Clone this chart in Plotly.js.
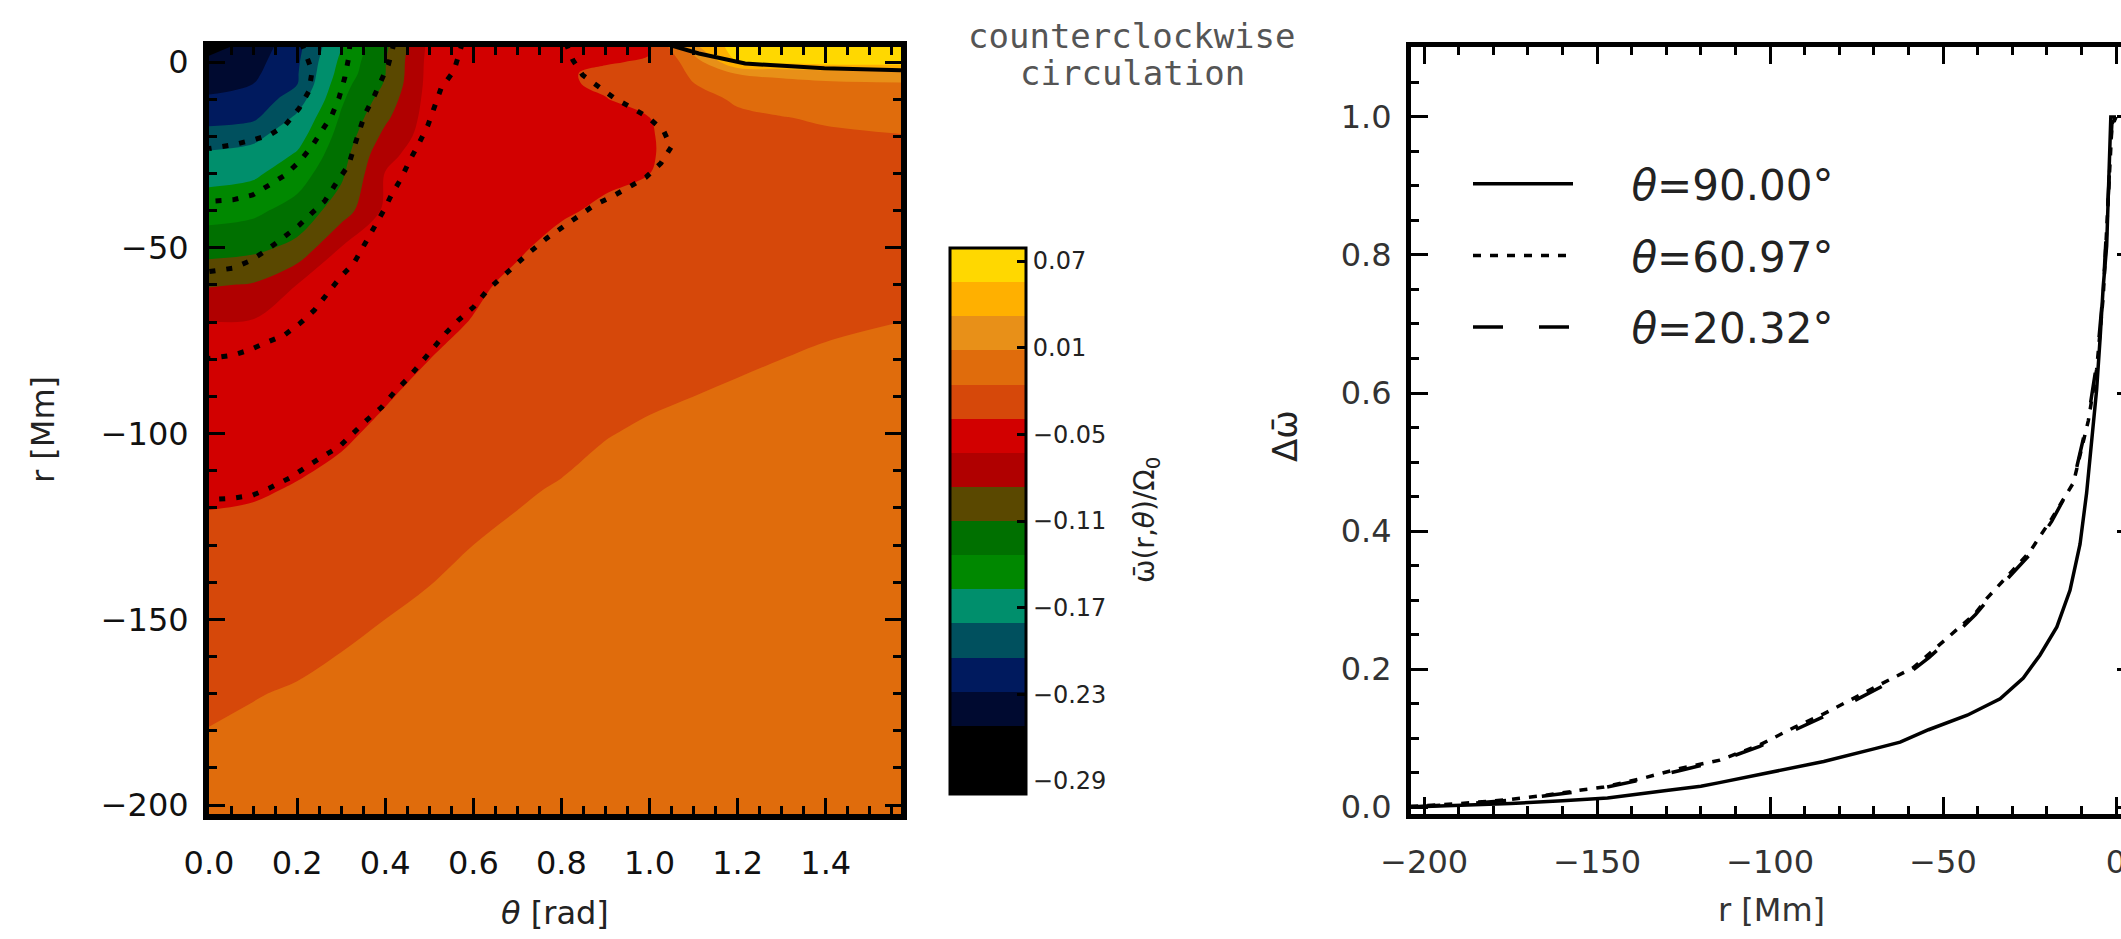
<!DOCTYPE html>
<html>
<head>
<meta charset="utf-8">
<script src="https://cdn.plot.ly/plotly-3.0.1.min.js"></script>
<style>
html,body{margin:0;padding:0;background:#fff;overflow:hidden;}
#wrap{width:2121px;height:939px;overflow:hidden;position:relative;background:#fff;}
#chart{width:2140px;height:939px;position:absolute;left:0;top:0;}
</style>
</head>
<body>
<div id="wrap"><div id="chart"></div></div>
<script>
// ---------------- data: left panel (omega-bar field) ----------------
const thetaGrid = [0, 0.1, 0.2, 0.3, 0.4, 0.5, 0.6, 0.7, 0.8, 0.9, 1.0, 1.1, 1.2, 1.3, 1.4, 1.5708];
const rGrid = [5, 0, -3, -6, -10, -15, -20, -25, -30, -40, -50, -60, -70, -80, -90, -100, -115, -130, -150, -170, -190, -203.5];
const omegaRows = [
  [-0.265,-0.245,-0.212,-0.160,-0.115,-0.058,-0.052,-0.049,-0.042,-0.042,-0.041,0.030,0.068,0.074,0.077,0.078],
  [-0.245,-0.237,-0.208,-0.152,-0.111,-0.056,-0.050,-0.047,-0.041,-0.040,-0.038,-0.005,0.056,0.062,0.065,0.066],
  [-0.240,-0.233,-0.2065,-0.148,-0.1105,-0.0555,-0.0495,-0.0465,-0.0405,-0.037,-0.033,-0.012,0.010,0.015,0.020,0.024],
  [-0.234,-0.228,-0.205,-0.142,-0.108,-0.055,-0.049,-0.046,-0.0405,-0.0375,-0.032,-0.016,-0.005,0.000,0.003,0.005],
  [-0.2255,-0.2194,-0.1927,-0.137,-0.1004,-0.0541,-0.0483,-0.0454,-0.0405,-0.0395,-0.035,-0.022,-0.013,-0.010,-0.008,-0.006],
  [-0.2125,-0.2088,-0.1766,-0.131,-0.0908,-0.0531,-0.0474,-0.0446,-0.041,-0.0405,-0.0392,-0.027,-0.019,-0.016,-0.014,-0.012],
  [-0.195,-0.1869,-0.1657,-0.1255,-0.0802,-0.052,-0.0465,-0.0438,-0.041,-0.041,-0.0405,-0.030,-0.022,-0.019,-0.0175,-0.016],
  [-0.1766,-0.1723,-0.1549,-0.120,-0.0686,-0.0509,-0.0456,-0.043,-0.041,-0.041,-0.0405,-0.031,-0.0235,-0.021,-0.0195,-0.018],
  [-0.1657,-0.1614,-0.1444,-0.1145,-0.0619,-0.0499,-0.0447,-0.0422,-0.0408,-0.0405,-0.0392,-0.030,-0.024,-0.0215,-0.020,-0.0188],
  [-0.1428,-0.1386,-0.1248,-0.0986,-0.0583,-0.0477,-0.0429,-0.0413,-0.040,-0.038,-0.0342,-0.027,-0.0235,-0.021,-0.0198,-0.0188],
  [-0.1196,-0.1157,-0.104,-0.0619,-0.0547,-0.0456,-0.0411,-0.040,-0.037,-0.0325,-0.030,-0.025,-0.022,-0.020,-0.019,-0.018],
  [-0.0882,-0.0846,-0.0624,-0.0578,-0.0511,-0.0435,-0.0404,-0.0376,-0.0331,-0.029,-0.027,-0.0225,-0.0205,-0.0185,-0.0177,-0.0168],
  [-0.0619,-0.061,-0.058,-0.0537,-0.0476,-0.0413,-0.0388,-0.0335,-0.030,-0.026,-0.0235,-0.020,-0.0185,-0.017,-0.0163,-0.0155],
  [-0.0574,-0.0565,-0.0535,-0.0496,-0.044,-0.0392,-0.035,-0.030,-0.027,-0.023,-0.0205,-0.0178,-0.0165,-0.0155,-0.0148,-0.0142],
  [-0.0529,-0.052,-0.049,-0.0455,-0.0404,-0.0345,-0.0305,-0.0265,-0.0235,-0.0195,-0.017,-0.0155,-0.0145,-0.014,-0.0135,-0.013],
  [-0.0484,-0.0475,-0.0445,-0.0415,-0.0359,-0.030,-0.026,-0.0225,-0.0195,-0.016,-0.014,-0.0135,-0.0128,-0.0125,-0.0122,-0.0118],
  [-0.0417,-0.0408,-0.0382,-0.0343,-0.0285,-0.0235,-0.0205,-0.017,-0.0145,-0.012,-0.011,-0.0108,-0.0105,-0.0103,-0.0101,-0.0098],
  [-0.0348,-0.0336,-0.0302,-0.0262,-0.0215,-0.018,-0.0155,-0.013,-0.011,-0.0095,-0.0088,-0.0085,-0.0083,-0.0082,-0.0081,-0.0079],
  [-0.0256,-0.0238,-0.0205,-0.0175,-0.0155,-0.0135,-0.012,-0.0105,-0.0085,-0.0075,-0.007,-0.0068,-0.0065,-0.0064,-0.0063,-0.0062],
  [-0.0175,-0.016,-0.0145,-0.013,-0.0115,-0.0095,-0.0085,-0.0075,-0.006,-0.0055,-0.005,-0.0048,-0.0047,-0.0047,-0.0046,-0.0045],
  [-0.013,-0.0115,-0.0088,-0.007,-0.006,-0.0065,-0.006,-0.005,-0.0045,-0.004,-0.0037,-0.0035,-0.0034,-0.0034,-0.0034,-0.0033],
  [-0.008,-0.007,-0.005,-0.004,-0.003,-0.004,-0.004,-0.003,-0.003,-0.0025,-0.0025,-0.0025,-0.0024,-0.0024,-0.0024,-0.0023]
];
const omegaMin = -0.299, omegaMax = 0.079, bandCount = 16;
const bandColors = ['#000000','#000000','#000a30','#001a5e','#00505e','#008f6c','#008800','#007000',
                    '#5a4800','#b00000','#d20000','#d6480a','#e06c0c','#e89018','#ffb000','#ffd800'];
const cbTickVals = [0.07, 0.01, -0.05, -0.11, -0.17, -0.23, -0.29];
const cbTickText = ['0.07', '0.01', '\u22120.05', '\u22120.11', '\u22120.17', '\u22120.23', '\u22120.29'];

// circulation streamlines (theta [rad], r [Mm])
const sl1Theta = [0.21, 0.234, 0.227, 0.205, 0.173, 0.137, 0.099, 0.054, 0];
const sl1R     = [5.1, -2.4, -7.8, -12.4, -17, -19.7, -21, -22.3, -23.3];
const sl2Theta = [0.32, 0.317, 0.308, 0.295, 0.279, 0.257, 0.234, 0.207, 0.173, 0.137, 0.099, 0.054, 0];
const sl2R     = [5.1, 1.1, -4.3, -9.7, -14.3, -18.3, -22.6, -26.6, -30.4, -33.1, -35.8, -37.1, -37.5];
const sl3Theta = [0.42, 0.407, 0.376, 0.353, 0.331, 0.317, 0.286, 0.263, 0.234, 0.205, 0.167, 0.128, 0.092, 0.054, 0];
const sl3R     = [5.1, -0.8, -8.9, -14.3, -22.3, -27.7, -33.1, -37.4, -40.6, -43.9, -47.4, -50.9, -53.6, -55.5, -56.4];
const sl4Theta = [0.575, 0.556, 0.527, 0.511, 0.497, 0.475, 0.455, 0.437, 0.414, 0.396, 0.374, 0.351, 0.329, 0.297, 0.268, 0.239, 0.207, 0.171, 0.128, 0.092, 0.054, 0];
const sl4R     = [5.1, -2.4, -7, -12.4, -17, -22.3, -26.6, -31.2, -35.8, -40.1, -44.7, -49.5, -54.1, -58.1, -62.7, -66.8, -70.3, -73.5, -75.6, -77.5, -78.9, -79.8];
const sl5Theta = [0.81, 0.826, 0.848, 0.887, 0.92, 0.961, 0.999, 1.033, 1.049, 1.026, 0.992, 0.954, 0.914, 0.875, 0.837, 0.801, 0.767, 0.729, 0.695, 0.662, 0.632, 0.601, 0.567, 0.538, 0.511, 0.482, 0.452, 0.421, 0.392, 0.358, 0.324, 0.295, 0.252, 0.218, 0.182, 0.137, 0.099, 0.054, 0];
const sl5R     = [5.1, 0.5, -3.5, -7, -9.7, -12.4, -15.1, -18.8, -22.9, -27.2, -31, -33.6, -36.3, -38.5, -41.7, -44.4, -47.4, -51.1, -54.6, -57.9, -61.4, -65.9, -69.4, -72.9, -76.7, -81, -85.1, -88.8, -92.9, -96.4, -100.4, -103.6, -106.6, -109.3, -112, -114.7, -116.6, -117.4, -117.8];
const slPosTheta = [1.03, 1.112, 1.217, 1.397, 1.5708];
const slPosR     = [5.1, 2.3, -0.4, -1.7, -2.2];

// ---------------- data: right panel (delta omega-bar profiles) ----------------
const rProfile90 = [-204, -190, -175, -160, -147, -130, -120, -115, -99, -92, -84.5, -69.4, -62.4, -54.2, -43, -33.5, -26.8, -22, -17.1, -13.3, -10.4, -8.5, -7.0, -5.6, -4.6, -3.7, -2.7, -2.2, -1.7, -1.5, 0];
const dOmega90   = [0.000, 0.002, 0.005, 0.009, 0.013, 0.024, 0.030, 0.035, 0.051, 0.058, 0.066, 0.085, 0.094, 0.112, 0.133, 0.157, 0.187, 0.220, 0.261, 0.314, 0.381, 0.455, 0.530, 0.605, 0.679, 0.754, 0.813, 0.903, 0.963, 1.000, 1.000];
const rProfileObl = [-204, -190, -175, -165, -154, -148, -136.6, -126, -114.5, -103, -92.8, -84.5, -68, -58.6, -54, -45.1, -40.6, -37.4, -24.9, -18.6, -12.3, -8.0, -5.6, -3.7, -2.2, -1.7, -1.2, 0];
const dOmega61    = [0.001, 0.005, 0.011, 0.017, 0.025, 0.029, 0.042, 0.056, 0.068, 0.090, 0.116, 0.135, 0.178, 0.202, 0.222, 0.261, 0.281, 0.302, 0.370, 0.418, 0.470, 0.560, 0.634, 0.739, 0.881, 0.940, 0.985, 1.000];
const dOmega20    = [0.000, 0.004, 0.010, 0.016, 0.023, 0.028, 0.040, 0.053, 0.067, 0.088, 0.112, 0.131, 0.174, 0.199, 0.217, 0.257, 0.279, 0.298, 0.366, 0.414, 0.472, 0.565, 0.642, 0.748, 0.890, 0.950, 0.990, 1.000];
const legendNames = ['\u00a0\u00a0\u00a0\u00a0<i>\u03b8</i>=90.00\u00b0', '\u00a0\u00a0\u00a0\u00a0<i>\u03b8</i>=60.97\u00b0', '\u00a0\u00a0\u00a0\u00a0<i>\u03b8</i>=20.32\u00b0'];

// ---------------- layout helpers ----------------
const W = 2140, H = 939;
const px = v => v / W;
const py = v => (H - v) / H;
const FONT = 'DejaVu Sans, Verdana, sans-serif';
const MONO = 'DejaVu Sans Mono, monospace';

const cbScale = [];
bandColors.forEach((c, j) => { cbScale.push([j / bandCount, c]); cbScale.push([(j + 1) / bandCount, c]); });
const levelSize = (omegaMax - omegaMin) / bandCount;
const contourScale = bandColors.map((c, j) => [j / (bandCount - 1), c]);

const traces = [
  {
    type: 'heatmap', x: thetaGrid, y: rGrid, z: omegaRows, zsmooth: 'best',
    colorscale: cbScale, zmin: omegaMin, zmax: omegaMax, hoverinfo: 'skip',
    colorbar: {
      thickness: 76, thicknessmode: 'pixels', len: 546, lenmode: 'pixels',
      x: px(950), xanchor: 'left', y: py(521), yanchor: 'middle', xpad: 0, ypad: 0,
      outlinewidth: 3, outlinecolor: '#000',
      ticks: 'inside', ticklen: 10, tickwidth: 3, tickcolor: '#000',
      tickmode: 'array', tickvals: cbTickVals, ticktext: cbTickText,
      tickfont: {family: FONT, size: 24, color: '#222'}
    }
  },
  {
    type: 'contour', x: thetaGrid, y: rGrid, z: omegaRows, autocontour: false,
    contours: {start: omegaMin + levelSize, end: omegaMax - levelSize, size: levelSize, coloring: 'fill', showlines: false},
    colorscale: contourScale, showscale: false, line: {width: 0, smoothing: 1}, hoverinfo: 'skip'
  }
];
const dotted = {color: '#000', width: 5, dash: '6px,11px'};
[[sl1Theta, sl1R], [sl2Theta, sl2R], [sl3Theta, sl3R], [sl4Theta, sl4R], [sl5Theta, sl5R]].forEach(s => {
  traces.push({type: 'scatter', mode: 'lines', x: s[0], y: s[1], line: dotted, showlegend: false, hoverinfo: 'skip'});
});
traces.push({type: 'scatter', mode: 'lines', x: slPosTheta, y: slPosR, line: {color: '#000', width: 4}, showlegend: false, hoverinfo: 'skip'});

traces.push({type: 'scatter', mode: 'lines', x: rProfile90, y: dOmega90, xaxis: 'x2', yaxis: 'y2',
  line: {color: '#000', width: 3.5}, name: legendNames[0], legendgroup: 'a'});
traces.push({type: 'scatter', mode: 'lines', x: rProfileObl, y: dOmega61, xaxis: 'x2', yaxis: 'y2',
  line: {color: '#000', width: 3.5, dash: '8px,9px'}, name: legendNames[1], legendgroup: 'b'});
traces.push({type: 'scatter', mode: 'lines', x: rProfileObl, y: dOmega20, xaxis: 'x2', yaxis: 'y2',
  line: {color: '#000', width: 3.5, dash: '30px,36px'}, name: legendNames[2], legendgroup: 'c'});

const tickCommon = {
  ticks: 'inside', tickcolor: '#000', tickwidth: 3, showline: true, linecolor: '#000',
  mirror: 'allticks', showgrid: false, zeroline: false
};
function note(text, x, y, size, color, angle, family) {
  return {text: text, x: px(x), y: py(y), xref: 'paper', yref: 'paper', xanchor: 'center', yanchor: 'middle',
          showarrow: false, textangle: angle || 0, font: {family: family || FONT, size: size, color: color}};
}
const layout = {
  width: W, height: H, margin: {l: 0, r: 0, t: 0, b: 0}, paper_bgcolor: '#fff', plot_bgcolor: '#fff',
  font: {family: FONT, color: '#222'},
  xaxis: Object.assign({}, tickCommon, {
    domain: [px(209), px(901)], range: [0, 1.5708], tickmode: 'linear', tick0: 0, dtick: 0.2, tickformat: '.1f',
    ticklen: 16, linewidth: 6, ticklabelstandoff: 16,
    minor: {dtick: 0.05, ticklen: 8, tickwidth: 3, tickcolor: '#000', ticks: 'inside'},
    tickfont: {family: FONT, size: 32, color: '#111'}, anchor: 'y'
  }),
  yaxis: Object.assign({}, tickCommon, {
    domain: [py(814), py(47)], range: [-202.4, 4.04], tickmode: 'linear', tick0: 0, dtick: 50,
    ticklen: 16, linewidth: 6, ticklabelstandoff: 8,
    minor: {dtick: 10, ticklen: 8, tickwidth: 3, tickcolor: '#000', ticks: 'inside'},
    tickfont: {family: FONT, size: 32, color: '#111'}, anchor: 'x'
  }),
  xaxis2: Object.assign({}, tickCommon, {
    domain: [px(1411), px(2134)], range: [-203.8, 5.2], tickmode: 'linear', tick0: 0, dtick: 50,
    ticklen: 17, linewidth: 5, ticklabelstandoff: 16,
    minor: {dtick: 10, ticklen: 8, tickwidth: 3, tickcolor: '#000', ticks: 'inside'},
    tickfont: {family: FONT, size: 32, color: '#333'}, anchor: 'y2'
  }),
  yaxis2: Object.assign({}, tickCommon, {
    domain: [py(814), py(47)], range: [-0.0101, 1.1014], tickmode: 'linear', tick0: 0, dtick: 0.2, tickformat: '.1f',
    ticklen: 17, linewidth: 5, ticklabelstandoff: 8,
    minor: {dtick: 0.05, ticklen: 8, tickwidth: 3, tickcolor: '#000', ticks: 'inside'},
    tickfont: {family: FONT, size: 32, color: '#333'}, anchor: 'x2'
  }),
  showlegend: true,
  legend: {
    x: px(1468), y: py(150), xanchor: 'left', yanchor: 'top', bgcolor: 'rgba(0,0,0,0)', borderwidth: 0,
    font: {family: FONT, size: 42, color: '#222'}, itemwidth: 100, traceorder: 'grouped', tracegroupgap: 14,
    itemclick: false, itemdoubleclick: false
  },
  annotations: [
    note('counterclockwise', 1132, 36, 34, '#555', 0, MONO),
    note('circulation', 1132, 73, 34, '#555', 0, MONO),
    note('\u03c9\u0304(r,<i>\u03b8</i>)/\u03a9<sub>0</sub>', 1146, 520, 28, '#222', -90),
    note('<i>\u03b8</i> [rad]', 555, 913, 32, '#222'),
    note('r [Mm]', 43, 430, 32, '#222', -90),
    note('r [Mm]', 1771, 910, 32, '#333'),
    note('\u0394\u03c9\u0304', 1285, 436, 34, '#222', -90)
  ]
};
Plotly.newPlot('chart', traces, layout, {staticPlot: true, displayModeBar: false});
</script>
</body>
</html>
